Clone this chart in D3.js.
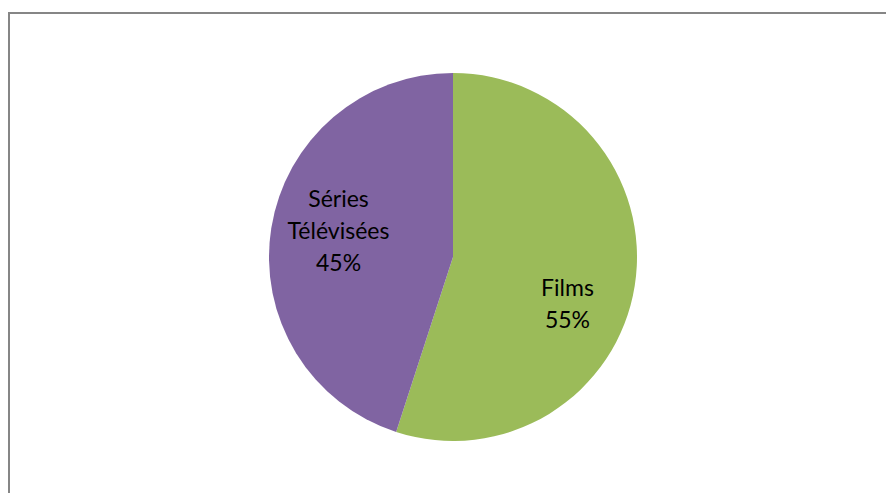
<!DOCTYPE html>
<html><head><meta charset="utf-8">
<script src="https://cdn.jsdelivr.net/npm/d3@7"></script>
<style>body{margin:0;background:#fff}svg{display:block}</style>
</head><body>
<svg id="c" width="886" height="493"></svg>
<script>
const categories = ["Films", "Séries Télévisées"];
const values = [55, 45];
const labelLines = [["Films", "55%"], ["Séries", "Télévisées", "45%"]];
const colors = ["#9BBB59", "#8064A2"];

const svg = d3.select("#c");
svg.append("rect").attr("x", 9).attr("y", 13).attr("width", 890).attr("height", 500)
  .attr("fill", "#fff").attr("stroke", "#868686").attr("stroke-width", 2);

const cx = 453, cy = 257, r = 184;
const g = svg.append("g").attr("transform", `translate(${cx},${cy})`);
const pie = d3.pie().sort(null).value(d => d)(values);
const arc = d3.arc().innerRadius(0).outerRadius(r);
g.selectAll("path").data(pie).enter().append("path")
  .attr("d", arc).attr("fill", (d, i) => colors[i]);

const labelArc = d3.arc().innerRadius(r * 0.63).outerRadius(r * 0.63);
const lh = 32;
const shiftY = [37, 0];
g.selectAll("text").data(pie).enter().append("text")
  .attr("font-family", "Lato, 'Open Sans', sans-serif").attr("font-size", 23)
  .attr("fill", "#000").attr("text-anchor", "middle")
  .each(function (d, i) {
    const [x, y] = labelArc.centroid(d);
    const lines = labelLines[i];
    const t = d3.select(this);
    lines.forEach((l, k) => {
      t.append("tspan").attr("x", x)
        .attr("y", y + (k - (lines.length - 1) / 2) * lh + shiftY[i]).text(l);
    });
  });
</script>
</body></html>
